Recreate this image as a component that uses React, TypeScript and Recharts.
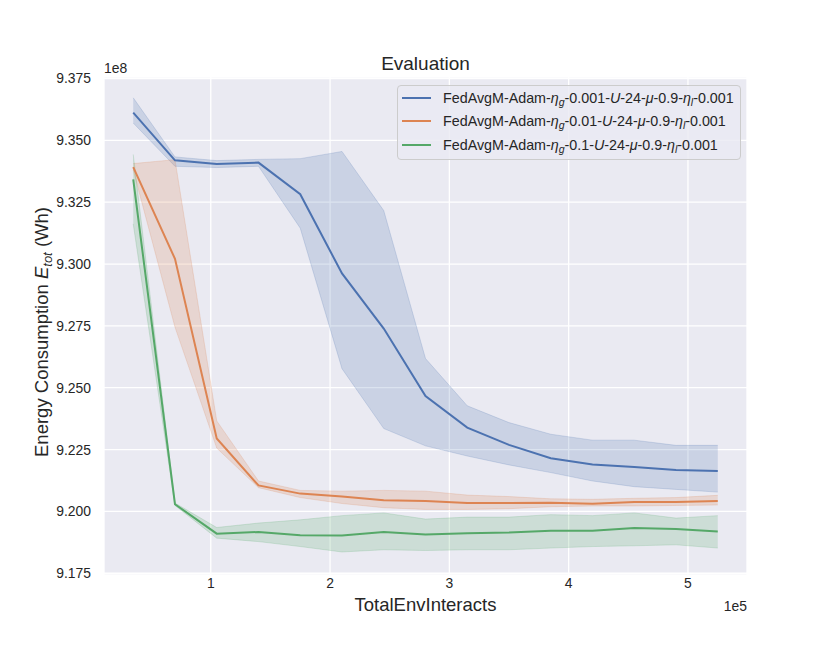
import React from "react";
import {
  ComposedChart,
  Area,
  Line,
  XAxis,
  YAxis,
  CartesianGrid,
  Legend,
  Label,
} from "recharts";

// x: TotalEnvInteracts, y: energy in units of 1e8 Wh
const steps = [
  35000, 70000, 105000, 140000, 175000, 210000, 245000, 280000, 315000,
  350000, 385000, 420000, 455000, 490000, 525000,
];

const blueMean = [
  9.3612, 9.3419, 9.3404, 9.341, 9.3282, 9.2962, 9.2739, 9.2466, 9.2339,
  9.2269, 9.2215, 9.219, 9.218, 9.2167, 9.2163,
];
const blueLow = [
  9.357, 9.3395, 9.339, 9.3395, 9.3145, 9.2577, 9.2335, 9.2265, 9.2224,
  9.2188, 9.2157, 9.2123, 9.21, 9.2089, 9.2078,
];
const blueHigh = [
  9.3672, 9.3433, 9.3418, 9.3423, 9.3426, 9.3455, 9.3216, 9.2618, 9.2427,
  9.2359, 9.2312, 9.2288, 9.2288, 9.2267, 9.2267,
];

const orangeMean = [
  9.3392, 9.3021, 9.2295, 9.2105, 9.2072, 9.206, 9.2045, 9.2042, 9.2034,
  9.2034, 9.2035, 9.2031, 9.2038, 9.2038, 9.2042,
];
const orangeLow = [
  9.338, 9.2745, 9.2256, 9.2096, 9.2056, 9.2032, 9.2015, 9.2008, 9.2008,
  9.2011, 9.2019, 9.2022, 9.2022, 9.2024, 9.2026,
];
const orangeHigh = [
  9.3406, 9.3422, 9.2366, 9.2123, 9.2085, 9.2082, 9.2085, 9.2082, 9.2066,
  9.206, 9.2051, 9.2049, 9.2053, 9.2056, 9.2065,
];

const greenMean = [
  9.3342, 9.2029, 9.191, 9.1917, 9.1904, 9.1903, 9.1917, 9.1907, 9.1912,
  9.1915, 9.1922, 9.1922, 9.1933, 9.1929, 9.1919,
];
const greenLow = [
  9.3162, 9.2024, 9.1892, 9.1878, 9.1858, 9.1836, 9.1845, 9.1842, 9.1845,
  9.1845, 9.1852, 9.1858, 9.1861, 9.1865, 9.1852,
];
const greenHigh = [
  9.3443, 9.2034, 9.1935, 9.1953, 9.1966, 9.1983, 9.1994, 9.1969, 9.1977,
  9.1977, 9.1987, 9.1983, 9.1994, 9.1973, 9.1983,
];

const xTicks = [100000, 200000, 300000, 400000, 500000];
const yTicks = [9.175, 9.2, 9.225, 9.25, 9.275, 9.3, 9.325, 9.35, 9.375];

const series = [
  { key: "blue", color: "#4c72b0", etaG: "0.001" },
  { key: "orange", color: "#dd8452", etaG: "0.01" },
  { key: "green", color: "#55a868", etaG: "0.1" },
];

const data = steps.map((x, i) => ({
  x,
  blue: blueMean[i],
  blueBand: [blueLow[i], blueHigh[i]],
  orange: orangeMean[i],
  orangeBand: [orangeLow[i], orangeHigh[i]],
  green: greenMean[i],
  greenBand: [greenLow[i], greenHigh[i]],
}));

const FONT = "'Liberation Sans', Arial, Helvetica, sans-serif";
const TEXT = "#262626";
const W = 830;
const H = 646;
const M = { top: 77, right: 83, bottom: 31, left: 34 };
const Y_AXIS_W = 70;
const X_AXIS_H = 40;
const plotLeft = M.left + Y_AXIS_W;
const plotRight = W - M.right;
const plotTop = M.top;
const plotBottom = H - M.bottom - X_AXIS_H;

const Sub = ({ children }: { children: React.ReactNode }) => (
  <span style={{ fontSize: 10.5, fontStyle: "italic", position: "relative", top: 3 }}>
    {children}
  </span>
);

const LegendLabel = ({ etaG }: { etaG: string }) => (
  <span>
    FedAvgM-Adam-<i>η</i>
    <Sub>g</Sub>-{etaG}-<i>U</i>-24-<i>μ</i>-0.9-<i>η</i>
    <Sub>l</Sub>-0.001
  </span>
);

const renderLegend = () => (
  <div
    style={{
      boxSizing: "border-box",
      width: 344,
      height: 75,
      border: "1px solid #cccccc",
      borderRadius: 4,
      background: "rgba(234,234,242,0.8)",
      fontFamily: FONT,
      fontSize: 14.3,
      color: TEXT,
    }}
  >
    {series.map((s) => (
      <div
        key={s.key}
        style={{ height: 23.6, display: "flex", alignItems: "center", whiteSpace: "nowrap" }}
      >
        <span
          style={{
            display: "inline-block",
            width: 29,
            height: 2,
            marginLeft: 4,
            marginRight: 12,
            background: s.color,
          }}
        />
        <LegendLabel etaG={s.etaG} />
      </div>
    ))}
  </div>
);

export default function App() {
  return (
    <div style={{ position: "absolute", left: 0, top: 0, width: W, height: H, background: "#fff" }}>
      <ComposedChart width={W} height={H} data={data} margin={M}>
        <CartesianGrid fill="#eaeaf2" stroke="#ffffff" strokeWidth={1.3} />
        <XAxis
          dataKey="x"
          type="number"
          domain={[10500, 549500]}
          ticks={xTicks}
          tickFormatter={(v: number) => String(v / 100000)}
          axisLine={false}
          tickLine={false}
          tickSize={3}
          tickMargin={0}
          height={X_AXIS_H}
          tick={{ fill: TEXT, fontSize: 13.9, fontFamily: FONT }}
        >
          <Label
            content={() => (
              <g fontFamily={FONT} fill={TEXT}>
                <text x={(plotLeft + plotRight) / 2} y={611} textAnchor="middle" fontSize={18.5}>
                  TotalEnvInteracts
                </text>
                <text x={plotRight} y={611} textAnchor="end" fontSize={13.9}>
                  1e5
                </text>
              </g>
            )}
          />
        </XAxis>
        <YAxis
          type="number"
          domain={[9.1743, 9.3756]}
          ticks={yTicks}
          tickFormatter={(v: number) => v.toFixed(3)}
          axisLine={false}
          tickLine={false}
          tickSize={5}
          tickMargin={8}
          width={Y_AXIS_W}
          tick={{ fill: TEXT, fontSize: 13.9, fontFamily: FONT }}
        >
          <Label
            content={() => (
              <g fontFamily={FONT} fill={TEXT}>
                <text
                  transform={`translate(48,${(plotTop + plotBottom) / 2 + 6}) rotate(-90)`}
                  textAnchor="middle"
                  fontSize={18.5}
                >
                  Energy Consumption{" "}
                  <tspan fontStyle="italic">E</tspan>
                  <tspan fontStyle="italic" fontSize={13} dy={4}>
                    tot
                  </tspan>
                  <tspan dy={-4}> (Wh)</tspan>
                </text>
                <text x={plotLeft} y={73} fontSize={13.9}>
                  1e8
                </text>
                <text x={(plotLeft + plotRight) / 2} y={70} textAnchor="middle" fontSize={19}>
                  Evaluation
                </text>
              </g>
            )}
          />
        </YAxis>
        {series.map((s) => (
          <Area
            key={s.key + "Band"}
            type="linear"
            dataKey={s.key + "Band"}
            fill={s.color}
            fillOpacity={0.2}
            stroke={s.color}
            strokeOpacity={0.2}
            strokeWidth={1}
            dot={false}
            activeDot={false}
            isAnimationActive={false}
          />
        ))}
        {series.map((s) => (
          <Line
            key={s.key}
            type="linear"
            dataKey={s.key}
            stroke={s.color}
            strokeWidth={2}
            dot={false}
            activeDot={false}
            isAnimationActive={false}
          />
        ))}
        <Legend
          layout="vertical"
          align="center"
          verticalAlign="middle"
          content={renderLegend}
          wrapperStyle={{ position: "absolute", left: 397, top: 85, width: "auto", height: "auto" }}
        />
      </ComposedChart>
    </div>
  );
}
